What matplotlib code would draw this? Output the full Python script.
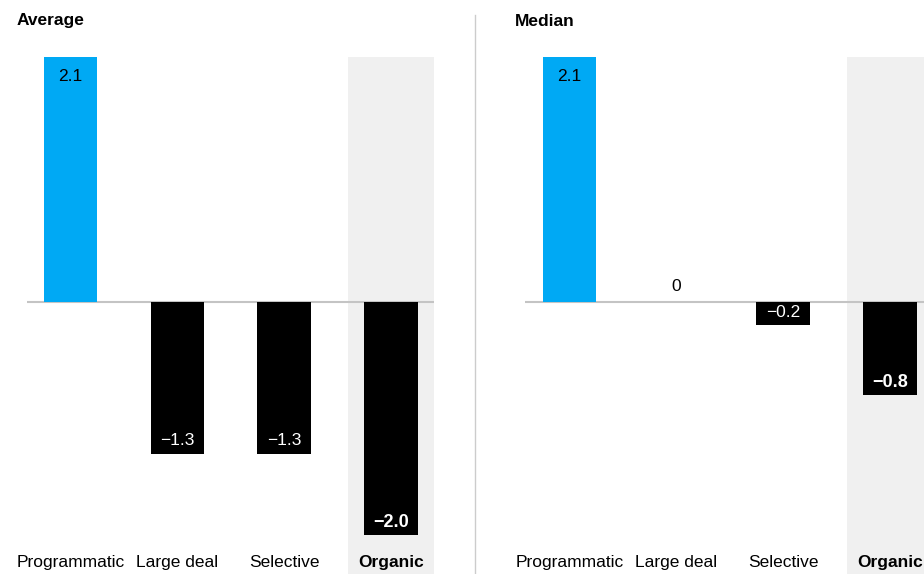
import numpy as np
import matplotlib
matplotlib.use('Agg')
import matplotlib.pyplot as plt

categories = ['Programmatic', 'Large deal', 'Selective', 'Organic']
average = [2.1, -1.3, -1.3, -2.0]
median = [2.1, 0.0, -0.2, -0.8]
avg_labels = ['2.1', '\u22121.3', '\u22121.3', '\u22122.0']
med_labels = ['2.1', '0', '\u22120.2', '\u22120.8']

plt.rcParams['font.family'] = ['Liberation Sans', 'DejaVu Sans']

W, H = 924, 574
PX_X = 106.8      # px per category
PX_Y = 116.7      # px per unit
BASE = 302        # baseline, px from top


def panel(fig, left_px, right_px, center0_px, title, vals, labels):
    ax = fig.add_axes([left_px / W, 0, (right_px - left_px) / W, 1])
    ax.set_xlim((left_px - center0_px) / PX_X, (right_px - center0_px) / PX_X)
    ax.set_ylim(-(H - BASE) / PX_Y, BASE / PX_Y)
    ax.axis('off')
    ybot = -(H - BASE) / PX_Y
    x = np.arange(len(vals))
    # highlight for Organic
    ax.bar(x[-1], max(vals[0], 2.1) - ybot, bottom=ybot, width=0.81,
           color='#f0f0f0', zorder=0)
    colors = ['#00a9f4'] + ['black'] * (len(vals) - 1)
    ax.bar(x, vals, width=0.5, color=colors, zorder=2)
    ax.axhline(0, color='#c4c4c4', lw=1.5, zorder=1)
    for i, (v, lab) in enumerate(zip(vals, labels)):
        bold = i == len(vals) - 1
        if v > 0:
            ax.text(i, v - 0.17, lab, ha='center', va='center', fontsize=12.5,
                    color='black', zorder=3)
        elif v == 0:
            ax.text(i, 0.13, lab, ha='center', va='center', fontsize=12.5,
                    color='black', zorder=3)
        else:
            ax.text(i, v + 0.11, lab, ha='center', va='center',
                    fontsize=13 if bold else 12.5,
                    fontweight='bold' if bold else 'normal',
                    color='white', zorder=3)
        ax.text(i, ybot + 0.1, categories[i], ha='center', va='center',
                fontsize=12.5, fontweight='bold' if bold else 'normal',
                color='black', zorder=3)
    fig.text((left_px - 10) / W, 1 - 21 / H, title, fontsize=12.5,
             fontweight='bold', ha='left', va='center')
    return ax


fig = plt.figure(figsize=(W / 100, H / 100), dpi=100)
panel(fig, 27, 434, 70.5, 'Average', average, avg_labels)
panel(fig, 525, 924, 569.5, 'Median', median, med_labels)
fig.add_artist(plt.Line2D([475 / W, 475 / W], [0, 1 - 15 / H],
                          color='#cccccc', lw=1, transform=fig.transFigure))
fig.savefig('out.png', dpi=100)
